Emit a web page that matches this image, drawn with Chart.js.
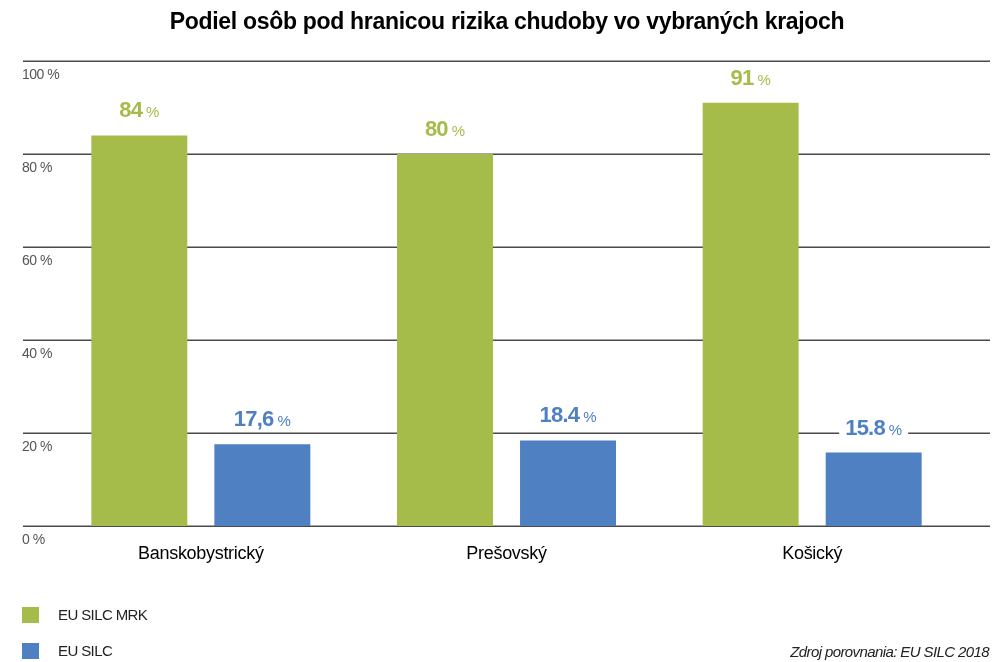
<!DOCTYPE html>
<html>
<head>
<meta charset="utf-8">
<script src="https://cdn.jsdelivr.net/npm/chart.js@4.4.1/dist/chart.umd.min.js"></script>
<style>
html,body{margin:0;padding:0;background:#fff;}
#wrap{width:1001px;height:662px;position:relative;}
</style>
</head>
<body>
<div id="wrap"><canvas id="c" width="1001" height="662"></canvas></div>
<script>
const title = 'Podiel osôb pod hranicou rizika chudoby vo vybraných krajoch';
const categories = ['Banskobystrický', 'Prešovský', 'Košický'];
const seriesNames = ['EU SILC MRK', 'EU SILC'];
const mrkValues = [84, 80, 91];
const silcValues = [17.6, 18.4, 15.8];
const mrkLabels = ['84', '80', '91'];
const silcLabels = ['17,6', '18.4', '15.8'];
const yTicks = [0, 20, 40, 60, 80, 100];
const yTickLabels = ['0 %', '20 %', '40 %', '60 %', '80 %', '100 %'];
const source = 'Zdroj porovnania: EU SILC 2018';

const GREEN = '#a6bc4a';
const BLUE = '#4f80c1';
const FONT = '"Liberation Sans", Arial, sans-serif';

const overlay = {
  id: 'overlay',
  beforeDatasetsDraw(chart) {
    const ctx = chart.ctx;
    const y = chart.scales.y;
    ctx.save();
    ctx.strokeStyle = '#4a4a4a';
    ctx.lineWidth = 1.5;
    ctx.font = '14px ' + FONT;
    ctx.fillStyle = '#555';
    ctx.textAlign = 'left';
    ctx.textBaseline = 'middle';
    ctx.letterSpacing = '-0.5px';
    yTicks.forEach((v, i) => {
      const py = Math.round(y.getPixelForValue(v)) + 0.25;
      ctx.beginPath();
      ctx.moveTo(23, py);
      ctx.lineTo(990, py);
      ctx.stroke();
      ctx.fillText(yTickLabels[i], 22, py + 14);
    });
    ctx.restore();
  },
  afterDatasetsDraw(chart) {
    const ctx = chart.ctx;
    ctx.save();
    const sets = [[mrkLabels, GREEN], [silcLabels, BLUE]];
    sets.forEach(([labels, color], di) => {
      const meta = chart.getDatasetMeta(di);
      meta.data.forEach((bar, i) => {
        const num = labels[i];
        ctx.letterSpacing = '-0.8px';
        ctx.font = 'bold 22px ' + FONT;
        const w1 = ctx.measureText(num).width;
        ctx.font = '15px ' + FONT;
        ctx.letterSpacing = '0px';
        const w2 = ctx.measureText('%').width;
        const gap = 4;
        const total = w1 + gap + w2;
        const base = bar.y - 18;
        const x0 = bar.x - total / 2;
        ctx.fillStyle = '#fff';
        ctx.fillRect(x0 - 6, base - 20, total + 12, 24);
        ctx.fillStyle = color;
        ctx.textAlign = 'left';
        ctx.textBaseline = 'alphabetic';
        ctx.font = 'bold 22px ' + FONT;
        ctx.letterSpacing = '-0.8px';
        ctx.fillText(num, x0, base);
        ctx.font = '15px ' + FONT;
        ctx.letterSpacing = '0px';
        ctx.fillText('%', x0 + w1 + gap, base);
      });
    });
    ctx.restore();
  },
  afterDraw(chart) {
    const ctx = chart.ctx;
    const x = chart.scales.x;
    ctx.save();
    // title
    ctx.fillStyle = '#000';
    ctx.textAlign = 'center';
    ctx.textBaseline = 'middle';
    ctx.font = 'bold 23px ' + FONT;
    ctx.letterSpacing = '-0.3px';
    ctx.fillText(title, 507, 23);
    // categories
    ctx.font = '18px ' + FONT;
    ctx.letterSpacing = '-0.3px';
    categories.forEach((c, i) => {
      ctx.fillText(c, x.getPixelForValue(i), 554);
    });
    // legend
    const colors = [GREEN, BLUE];
    ctx.textAlign = 'left';
    ctx.font = '15px ' + FONT;
    ctx.letterSpacing = '-0.6px';
    seriesNames.forEach((n, i) => {
      const yy = 615 + i * 36;
      ctx.fillStyle = colors[i];
      ctx.fillRect(22, yy - 8, 17, 16);
      ctx.fillStyle = '#222';
      ctx.fillText(n, 58, yy + 1);
    });
    // source
    ctx.textAlign = 'right';
    ctx.font = 'italic 15px ' + FONT;
    ctx.letterSpacing = '-0.6px';
    ctx.fillStyle = '#222';
    ctx.fillText(source, 989, 653);
    ctx.restore();
  }
};

new Chart(document.getElementById('c'), {
  type: 'bar',
  data: {
    labels: categories,
    datasets: [
      { label: seriesNames[0], data: mrkValues, backgroundColor: GREEN, categoryPercentage: 0.805, barPercentage: 0.78 },
      { label: seriesNames[1], data: silcValues, backgroundColor: BLUE, categoryPercentage: 0.805, barPercentage: 0.78 }
    ]
  },
  options: {
    responsive: false,
    animation: false,
    layout: { padding: { left: 48, right: 36, top: 61, bottom: 136 } },
    plugins: { legend: { display: false }, title: { display: false }, tooltip: { enabled: false } },
    scales: {
      x: { display: false },
      y: { display: false, min: 0, max: 100 }
    }
  },
  plugins: [overlay]
});
</script>
</body>
</html>
